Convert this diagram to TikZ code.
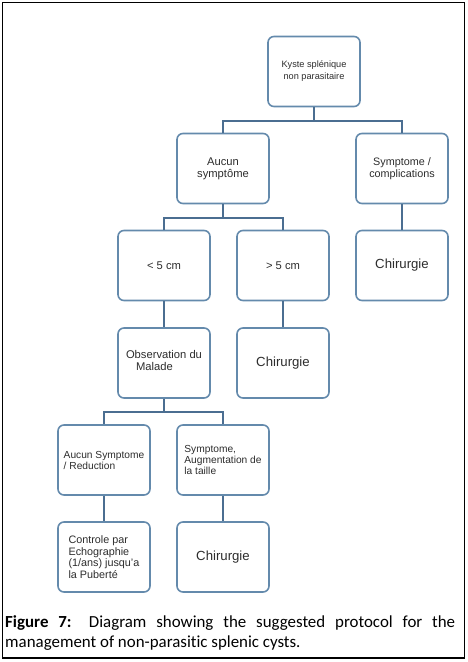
\documentclass[tikz,border=0pt]{standalone}
\usepackage{fontspec}
\setmainfont{Liberation Sans}
\newfontfamily\capfont[Ligatures=NoCommon]{Carlito}
\definecolor{boxblue}{RGB}{100,138,172}
\definecolor{linkblue}{RGB}{75,110,145}
\definecolor{txtgray}{RGB}{45,45,45}
\begin{document}
\begin{tikzpicture}[x=1pt,y=-1pt,
  stepbox/.style={draw=boxblue, line width=1.6pt, rounded corners=6pt, fill=white,
    minimum width=92pt, minimum height=70pt, inner sep=4pt, text=txtgray},
  link/.style={draw=linkblue, line width=1.7pt},
  fA/.style={font=\fontsize{9.2}{12}\selectfont},
  fB/.style={font=\fontsize{11.2}{12}\selectfont},
  fC/.style={font=\fontsize{10.8}{11.6}\selectfont},
  fD/.style={font=\fontsize{13.2}{14}\selectfont},
  fE/.style={font=\fontsize{10.2}{11}\selectfont},
  capstyle/.style={anchor=base west, inner sep=0pt, font=\capfont\fontsize{16.9}{20}\selectfont}
]
\useasboundingbox (0,0) rectangle (467,662);
\draw[line width=1.3pt] (2.5,2.5) rectangle (464.5,658);

\node[stepbox, fA, align=center] (top) at (314,71.5) {Kyste splénique\\non parasitaire};
\node[stepbox, fB, align=center] (aucun) at (223,168.5) {Aucun\\symptôme};
\node[stepbox, fC, align=center] (sympt) at (402,168.5) {Symptome /\\complications};
\node[stepbox, fB] (lt5) at (164,265.5) {< 5 cm};
\node[stepbox, fB] (gt5) at (283,265.5) {> 5 cm};
\node[stepbox, fD] (chir1) at (402,265.5) {Chirurgie};
\node[stepbox, fB, align=left] (obs) at (164,363) {Observation du\\\hspace*{10pt}Malade\\[-6pt]};
\node[stepbox, fD] (chir2) at (283,363) {Chirurgie};
\node[stepbox, fE, align=left] (aucunS) at (104,460) {Aucun Symptome\\/ Reduction};
\node[stepbox, fE, align=left] (sympAug) at (223,460) {Symptome,\\Augmentation de\\la taille};
\node[stepbox, fC, align=left] (ctrl) at (104,557) {Controle par\\Echographie\\(1/ans) jusqu'a\\la Puberté};
\node[stepbox, fD] (chir3) at (223,557) {Chirurgie};

\draw[link] (top.south) -- ++(0,14) coordinate (j1);
\draw[link] (aucun.north) |- (j1) -| (sympt.north);
\draw[link] (aucun.south) -- ++(0,14) coordinate (j2);
\draw[link] (lt5.north) |- (j2) -| (gt5.north);
\draw[link] (sympt.south) -- (chir1.north);
\draw[link] (lt5.south) -- (obs.north);
\draw[link] (gt5.south) -- (chir2.north);
\draw[link] (obs.south) -- ++(0,13) coordinate (j3);
\draw[link] (aucunS.north) |- (j3) -| (sympAug.north);
\draw[link] (aucunS.south) -- (ctrl.north);
\draw[link] (sympAug.south) -- (chir3.north);

\node[capstyle] (cap1) at (5,627) {\makebox[450pt][s]{\textbf{Figure 7:} Diagram showing the suggested protocol for the}};
\node[capstyle] (cap2) at (5,647) {management of non-parasitic splenic cysts.};
\end{tikzpicture}
\end{document}
